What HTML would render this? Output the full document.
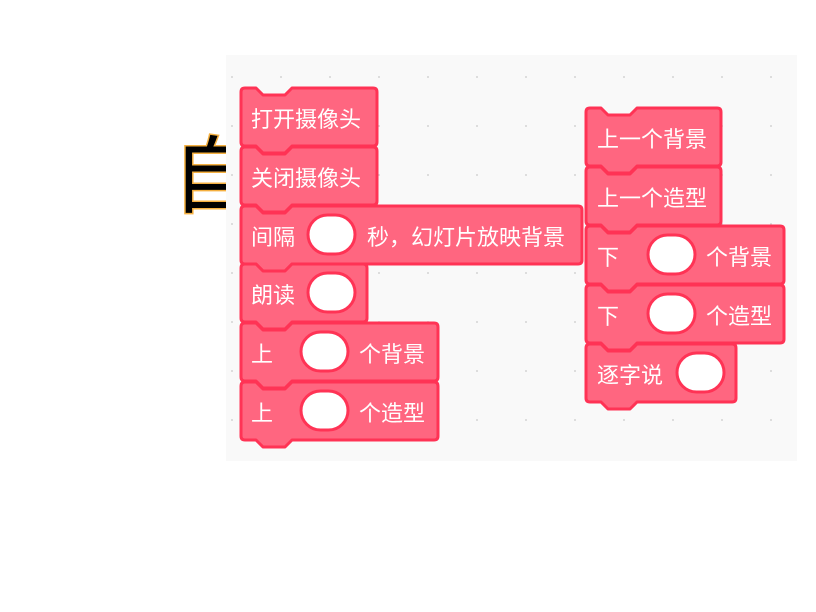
<!DOCTYPE html>
<html><head><meta charset="utf-8"><style>
html,body{margin:0;padding:0;background:#fff;width:816px;height:612px;overflow:hidden}
svg{display:block}
text{font-family:"Liberation Sans","Noto Sans CJK SC",sans-serif;font-size:22px;fill:#fff}
</style></head><body>
<svg id="s" width="816" height="612" xmlns="http://www.w3.org/2000/svg">
<text x="172" y="206" style="font-size:84px;fill:#000;stroke:#f5b040;stroke-width:3;paint-order:stroke;font-family:'Noto Sans CJK SC',sans-serif;font-weight:400">自</text>
<rect x="226" y="55" width="571" height="406" fill="#f9f9f9"/>
<g id="dots"></g>
<g id="blocks"></g>
</svg>
<script>
var NS="http://www.w3.org/2000/svg";
var dots=document.getElementById('dots');
for(var x=232;x<797;x+=49)for(var y=77;y<461;y+=49){var c=document.createElementNS(NS,'circle');c.setAttribute('cx',x);c.setAttribute('cy',y);c.setAttribute('r',1);c.setAttribute('fill','#d4d4d4');dots.appendChild(c);}
var g=document.getElementById('blocks');
function blk(x,y,w,items){
 var h=58;
 var d="M"+(x+4)+","+y+" L"+(x+15)+","+y+" L"+(x+22)+","+(y+7)+" L"+(x+44)+","+(y+7)+" L"+(x+51)+","+y+" L"+(x+w-4)+","+y+" Q"+(x+w)+","+y+" "+(x+w)+","+(y+4)+" L"+(x+w)+","+(y+h-4)+" Q"+(x+w)+","+(y+h)+" "+(x+w-4)+","+(y+h)+" L"+(x+51)+","+(y+h)+" L"+(x+44)+","+(y+h+7)+" L"+(x+22)+","+(y+h+7)+" L"+(x+15)+","+(y+h)+" L"+(x+4)+","+(y+h)+" Q"+x+","+(y+h)+" "+x+","+(y+h-4)+" L"+x+","+(y+4)+" Q"+x+","+y+" "+(x+4)+","+y+" Z";
 var p=document.createElementNS(NS,'path');p.setAttribute('d',d);p.setAttribute('fill','#ff6680');p.setAttribute('stroke','#ff3355');p.setAttribute('stroke-width','3');p.setAttribute('stroke-linejoin','round');g.appendChild(p);
 items.forEach(function(it){
  if(typeof it[1]==='string'){var t=document.createElementNS(NS,'text');t.setAttribute('x',it[0]);t.setAttribute('y',y+39);t.textContent=it[1];g.appendChild(t);}
  else{var r=document.createElementNS(NS,'rect');r.setAttribute('x',it[0]);r.setAttribute('y',y+9);r.setAttribute('width',47);r.setAttribute('height',39);r.setAttribute('rx',19.5);r.setAttribute('fill','#fff');r.setAttribute('stroke','#ff3355');r.setAttribute('stroke-width','3');g.appendChild(r);}
 });
}
blk(241,88,136,[[251,'打开摄像头']]);
blk(241,147,136,[[251,'关闭摄像头']]);
blk(241,206,341,[[251,'间隔'],[308,0],[367,'秒，幻灯片放映背景']]);
blk(241,264,126,[[251,'朗读'],[308,0]]);
blk(241,323,197,[[251,'上'],[301,0],[359,'个背景']]);
blk(241,382,197,[[251,'上'],[301,0],[359,'个造型']]);
blk(586,108,135,[[597,'上一个背景']]);
blk(586,167,135,[[597,'上一个造型']]);
blk(586,226,198,[[597,'下'],[648,0],[706,'个背景']]);
blk(586,285,198,[[597,'下'],[648,0],[706,'个造型']]);
blk(586,344,150,[[597,'逐字说'],[677,0]]);
</script>
</body></html>
